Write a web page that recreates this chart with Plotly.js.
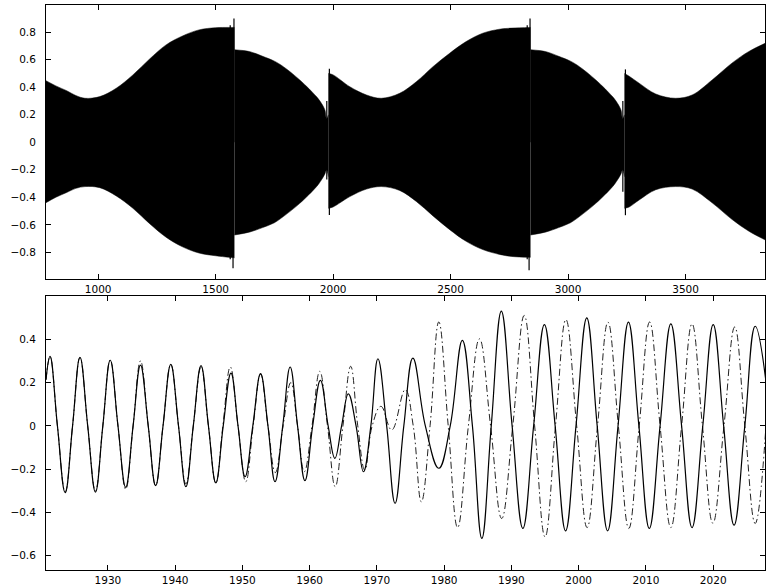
<!DOCTYPE html>
<html>
<head>
<meta charset="utf-8">
<script src="https://cdn.plot.ly/plotly-3.0.1.min.js"></script>
<style>html,body{margin:0;padding:0;background:#fff;}#chart{width:766px;height:585px;}</style>
</head>
<body>
<div id="chart"></div>
<script>
// ---- Top panel: envelope of the dense oscillation ----
// A repeated x value marks a jump (start of a new smooth segment).
const envX = [778, 820, 866, 905, 944, 1007, 1077, 1148, 1218, 1289, 1359, 1429, 1500, 1556, 1580,
  1580, 1646, 1700, 1750, 1788, 1858, 1929, 1950, 1965, 1972, 1980,
  1980, 2000, 2071, 2142, 2205, 2283, 2354, 2425, 2496, 2566, 2637, 2708, 2760, 2840,
  2840, 2906, 2960, 3010, 3048, 3118, 3189, 3210, 3225, 3232, 3240,
  3240, 3260, 3302, 3373, 3457, 3528, 3613, 3697, 3768, 3839];
const envUpper = [0.448, 0.41, 0.375, 0.34, 0.32, 0.332, 0.393, 0.49, 0.604, 0.708, 0.773, 0.817, 0.833, 0.835, 0.835,
  0.673, 0.659, 0.625, 0.59, 0.55, 0.453, 0.332, 0.284, 0.235, 0.17, 0.2,
  0.5, 0.49, 0.404, 0.344, 0.32, 0.356, 0.44, 0.55, 0.647, 0.732, 0.793, 0.822, 0.83, 0.835,
  0.673, 0.659, 0.625, 0.59, 0.55, 0.453, 0.332, 0.284, 0.235, 0.17, 0.2,
  0.5, 0.48, 0.43, 0.351, 0.32, 0.344, 0.453, 0.575, 0.659, 0.72];
const envLower = [-0.439, -0.40, -0.365, -0.335, -0.322, -0.33, -0.39, -0.48, -0.59, -0.69, -0.76, -0.805, -0.825, -0.836, -0.84,
  -0.674, -0.652, -0.62, -0.585, -0.54, -0.444, -0.323, -0.274, -0.23, -0.2, -0.25,
  -0.48, -0.47, -0.395, -0.34, -0.322, -0.35, -0.43, -0.535, -0.635, -0.72, -0.78, -0.815, -0.83, -0.836,
  -0.674, -0.652, -0.62, -0.585, -0.54, -0.444, -0.323, -0.274, -0.23, -0.2, -0.25,
  -0.48, -0.47, -0.42, -0.345, -0.322, -0.34, -0.44, -0.56, -0.645, -0.71];
// Isolated spikes near the jumps
const spikeX    = [1562, 1574, 1578, 1973, 1984, 2826, 2834, 2838, 3233, 3244];
const spikeLow  = [-0.85, -0.916, 0, -0.27, -0.528, -0.85, -0.93, 0, -0.36, -0.53];
const spikeHigh = [0.85, 0, 0.9, 0.3, 0.534, 0.85, 0, 0.9, 0.3, 0.53];

// ---- Bottom panel: solid series (extrema and zero crossings) ----
const solidYear = [1920.8, 1921.4, 1922.5, 1923.65, 1924.75, 1925.85, 1927.0, 1928.15, 1929.25, 1930.35, 1931.5, 1932.65, 1933.75, 1934.85,
  1936.0, 1937.1, 1938.2, 1939.35, 1940.5, 1941.6, 1942.7, 1943.85, 1944.95, 1946.05, 1947.15, 1948.3, 1949.35, 1950.4, 1951.55,
  1952.7, 1953.8, 1954.85, 1956.0, 1957.1, 1958.2, 1959.3, 1960.45, 1961.6, 1962.75, 1963.75, 1964.75, 1965.75, 1966.9, 1968.0,
  1969.1, 1970.15, 1971.45, 1972.7, 1974.0, 1975.35, 1977.2, 1979.2, 1980.9, 1982.7, 1984.2, 1985.6, 1987.0, 1988.5, 1990.1,
  1991.7, 1993.3, 1994.9, 1996.5, 1998.05, 1999.6, 2001.2, 2002.75, 2004.3, 2005.85, 2007.4, 2008.95, 2010.5, 2012.1, 2013.7,
  2015.3, 2016.85, 2018.45, 2020.0, 2021.55, 2023.1, 2024.7, 2026.25, 2027.8];
const solidVal = [0.213, 0.321, 0, -0.309, 0, 0.317, 0, -0.306, 0, 0.303, 0, -0.284, 0, 0.281,
  0, -0.276, 0, 0.284, 0, -0.281, 0, 0.278, 0, -0.263, 0, 0.244, 0, -0.235, 0,
  0.241, 0, -0.258, 0, 0.272, 0, -0.253, 0, 0.21, 0, -0.15, 0, 0.148, 0, -0.212,
  0, 0.31, 0, -0.358, 0, 0.313, 0, -0.196, 0, 0.395, 0, -0.52, 0, 0.53, 0,
  -0.474, 0, 0.468, 0, -0.485, 0, 0.499, 0, -0.485, 0, 0.479, 0, -0.474, 0, 0.471,
  0, -0.47, 0, 0.468, 0, -0.459, 0, 0.46, 0.215];

// ---- Bottom panel: dash-dot series ----
const dashYear = [1920.8, 1921.4, 1922.5, 1923.65, 1924.75, 1925.85, 1927.0, 1928.15, 1929.25, 1930.35, 1931.5, 1932.65, 1933.75, 1934.85,
  1936.0, 1937.1, 1938.2, 1939.35, 1940.5, 1941.6, 1942.7, 1943.85, 1944.95, 1946.05, 1947.1, 1948.2, 1949.35, 1950.5, 1951.6,
  1952.7, 1953.8, 1954.9, 1956.05, 1957.2, 1958.2, 1959.2, 1960.35, 1961.5, 1962.65, 1963.8, 1964.95, 1966.1, 1967.15, 1968.2,
  1969.3, 1970.6, 1972.2, 1974.2, 1975.4, 1976.6, 1977.9, 1979.2, 1980.6, 1982.0, 1983.6, 1985.25, 1986.9, 1988.55, 1990.2,
  1991.9, 1993.45, 1995.0, 1996.55, 1998.1, 1999.7, 2001.25, 2002.8, 2004.35, 2005.9, 2007.45, 2009.0, 2010.55, 2012.1, 2013.7,
  2015.3, 2016.85, 2018.4, 2019.95, 2021.6, 2023.2, 2024.7, 2026.25, 2027.8];
const dashVal = [0.213, 0.32, 0, -0.305, 0, 0.315, 0, -0.3, 0, 0.305, 0, -0.293, 0, 0.3,
  0, -0.276, 0, 0.284, 0, -0.268, 0, 0.27, 0, -0.265, 0, 0.272, 0, -0.258, 0,
  0.238, 0, -0.216, 0, 0.2, 0, -0.212, 0, 0.252, 0, -0.281, 0, 0.275, 0, -0.204,
  0, 0.09, -0.019, 0.167, 0, -0.351, 0, 0.48, 0, -0.47, 0, 0.402, 0, -0.428, 0,
  0.51, 0, -0.513, 0, 0.491, 0, -0.47, 0, 0.479, 0, -0.474, 0, 0.48, 0, -0.47,
  0, 0.471, 0, -0.45, 0, 0.457, 0, -0.451, -0.02];

const traces = [];

// split envelope into smooth segments at repeated x values
let start = 0;
for (let i = 1; i <= envX.length; i++) {
  if (i === envX.length || envX[i] === envX[i - 1]) {
    const xs = envX.slice(start, i);
    traces.push({x: xs, y: envLower.slice(start, i), type: 'scatter', mode: 'lines',
      line: {color: '#000', width: 0.5, shape: 'spline', smoothing: 1}, xaxis: 'x', yaxis: 'y',
      hoverinfo: 'skip', showlegend: false});
    traces.push({x: xs, y: envUpper.slice(start, i), type: 'scatter', mode: 'lines', fill: 'tonexty',
      fillcolor: '#000', line: {color: '#000', width: 0.5, shape: 'spline', smoothing: 1}, xaxis: 'x', yaxis: 'y',
      hoverinfo: 'skip', showlegend: false});
    start = i;
  }
}

const sx = [], sy = [];
spikeX.forEach((v, i) => { sx.push(v, v, null); sy.push(spikeLow[i], spikeHigh[i], null); });
traces.push({x: sx, y: sy, type: 'scatter', mode: 'lines', line: {color: '#000', width: 1.2},
  xaxis: 'x', yaxis: 'y', hoverinfo: 'skip', showlegend: false});

traces.push({x: dashYear, y: dashVal, type: 'scatter', mode: 'lines',
  line: {color: '#222', width: 1, dash: '7px,3px,1.5px,3px', shape: 'spline', smoothing: 1.2},
  xaxis: 'x2', yaxis: 'y2', showlegend: false});
traces.push({x: solidYear, y: solidVal, type: 'scatter', mode: 'lines',
  line: {color: '#000', width: 1.2, shape: 'spline', smoothing: 1.2},
  xaxis: 'x2', yaxis: 'y2', showlegend: false});

const tickFont = {family: 'DejaVu Sans, Liberation Sans, sans-serif', size: 10.5, color: '#000'};
const axBase = {showline: true, linecolor: '#000', linewidth: 1, mirror: 'ticks', ticks: 'inside',
  ticklen: 5, tickcolor: '#000', showgrid: false, zeroline: false, tickfont: tickFont};

const layout = {
  width: 766, height: 585,
  margin: {l: 46, r: 1, t: 5, b: 15},
  paper_bgcolor: '#fff', plot_bgcolor: '#fff',
  showlegend: false,
  xaxis: Object.assign({}, axBase, {domain: [0, 1], range: [778, 3838], tickvals: [1000, 1500, 2000, 2500, 3000, 3500],
    anchor: 'y', ticklabelstandoff: 0}),
  yaxis: Object.assign({}, axBase, {domain: [0.515, 1], range: [-0.994, 0.998],
    tickvals: [-0.8, -0.6, -0.4, -0.2, 0, 0.2, 0.4, 0.6, 0.8], anchor: 'x', ticklabelstandoff: 7}),
  xaxis2: Object.assign({}, axBase, {domain: [0, 1], range: [1920.8, 2027.7],
    tickvals: [1930, 1940, 1950, 1960, 1970, 1980, 1990, 2000, 2010, 2020], anchor: 'y2', ticklabelstandoff: 0}),
  yaxis2: Object.assign({}, axBase, {domain: [0, 0.485], range: [-0.666, 0.6],
    tickvals: [-0.6, -0.4, -0.2, 0, 0.2, 0.4], anchor: 'x2', ticklabelstandoff: 7})
};

Plotly.newPlot('chart', traces, layout, {staticPlot: true, displayModeBar: false});
</script>
</body>
</html>
